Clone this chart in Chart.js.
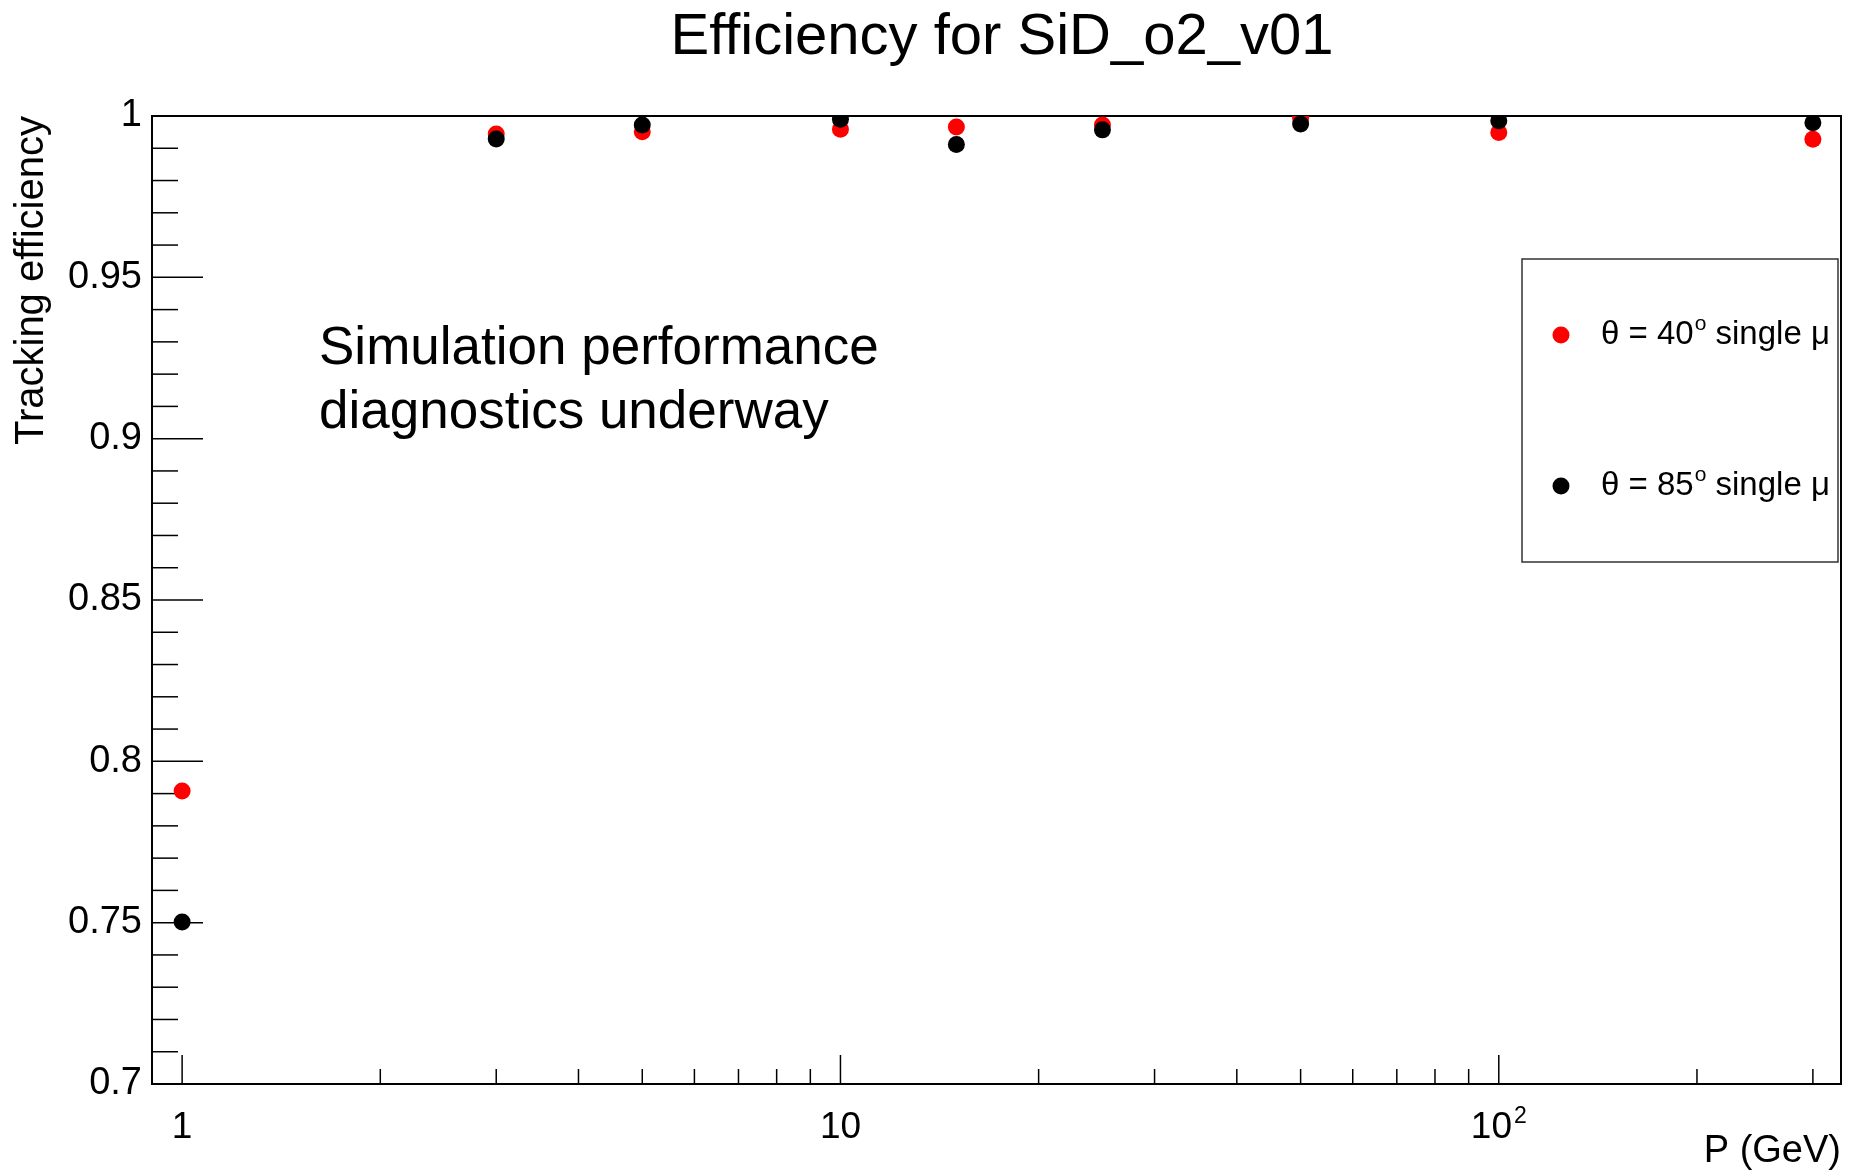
<!DOCTYPE html>
<html>
<head>
<meta charset="utf-8">
<title>Efficiency for SiD_o2_v01</title>
<script src="https://cdn.jsdelivr.net/npm/chart.js@4"></script>
<style>
    html, body { margin: 0; padding: 0; background: #ffffff; }
    canvas { display: block; }
</style>
</head>
<body>
<canvas id="effChart" width="1854" height="1172"></canvas>
<script>
const FONT = "'Liberation Sans', Arial, Helvetica, sans-serif";

// momentum points (GeV)
const momenta = [1, 3, 5, 10, 15, 25, 50, 100, 300];
// tracking efficiency, theta = 40 deg
const eff40 = [0.7908, 0.9944, 0.9951, 0.9959, 0.9966, 0.9972, 0.9993, 0.9949, 0.9928];
// tracking efficiency, theta = 85 deg
const eff85 = [0.7502, 0.9929, 0.9972, 0.9990, 0.9912, 0.9957, 0.9975, 0.9985, 0.9979];

const seriesNames = ['θ = 40', 'θ = 85'];
const seriesColors = ['#ff0000', '#000000'];

const xMajorTicks = [1, 10, 100];
const xMajorLabels = [['1', ''], ['10', ''], ['10', '2']];
const xMinorTicks = [2, 3, 4, 5, 6, 7, 8, 9, 20, 30, 40, 50, 60, 70, 80, 90, 200, 300];
const yMajorTicks = [0.7, 0.75, 0.8, 0.85, 0.9, 0.95, 1.0];
const yMinorTicks = [0.71, 0.72, 0.73, 0.74, 0.76, 0.77, 0.78, 0.79, 0.81, 0.82, 0.83, 0.84,
                     0.86, 0.87, 0.88, 0.89, 0.91, 0.92, 0.93, 0.94, 0.96, 0.97, 0.98, 0.99];

const titleText = 'Efficiency for SiD_o2_v01';
const noteLines = ['Simulation performance', 'diagnostics underway'];

const toPoints = ys => momenta.map((p, i) => ({ x: p, y: ys[i] }));

// frame, inward ticks, x labels, title, note and legend (ROOT look)
const rootStyle = {
    id: 'rootStyle',
    beforeDatasetsDraw(chart) {
        const { ctx, chartArea: a, scales: { x, y } } = chart;
        ctx.save();
        ctx.strokeStyle = '#000';
        ctx.lineWidth = 1.5;
        const seg = (x1, y1, x2, y2) => {
            ctx.beginPath(); ctx.moveTo(x1, y1); ctx.lineTo(x2, y2); ctx.stroke();
        };
        yMajorTicks.forEach(v => { const py = y.getPixelForValue(v); seg(a.left, py, a.left + 51, py); });
        yMinorTicks.forEach(v => { const py = y.getPixelForValue(v); seg(a.left, py, a.left + 26, py); });
        xMajorTicks.forEach(v => { const px = x.getPixelForValue(v); seg(px, a.bottom, px, a.bottom - 29); });
        xMinorTicks.forEach(v => { const px = x.getPixelForValue(v); seg(px, a.bottom, px, a.bottom - 15); });
        ctx.lineWidth = 2;
        ctx.strokeRect(a.left, a.top, a.right - a.left, a.bottom - a.top);
        ctx.restore();
    },
    afterDraw(chart) {
        const { ctx, scales: { x } } = chart;
        ctx.save();
        ctx.fillStyle = '#000';
        ctx.textBaseline = 'alphabetic';

        // x tick labels, with superscript exponent
        xMajorTicks.forEach((v, i) => {
            const [base, sup] = xMajorLabels[i];
            ctx.font = `37px ${FONT}`;
            const wb = ctx.measureText(base).width;
            ctx.font = `23px ${FONT}`;
            const ws = sup ? ctx.measureText(sup).width + 2 : 0;
            const left = x.getPixelForValue(v) - (wb + ws) / 2;
            ctx.textAlign = 'left';
            ctx.font = `37px ${FONT}`;
            ctx.fillText(base, left, 1138);
            if (sup) {
                ctx.font = `23px ${FONT}`;
                ctx.fillText(sup, left + wb + 2, 1123);
            }
        });

        // title
        ctx.textAlign = 'center';
        ctx.font = `58px ${FONT}`;
        ctx.fillText(titleText, 1002, 54);

        // note
        ctx.textAlign = 'left';
        ctx.font = `53px ${FONT}`;
        noteLines.forEach((t, i) => ctx.fillText(t, 319, 364 + i * 64));

        // legend box
        const lx = 1522, ly = 259, lw = 316, lh = 303;
        ctx.fillStyle = '#fff';
        ctx.fillRect(lx, ly, lw, lh);
        ctx.strokeStyle = '#333';
        ctx.lineWidth = 1.5;
        ctx.strokeRect(lx, ly, lw, lh);
        const rowY = [344, 495];
        seriesNames.forEach((name, i) => {
            ctx.fillStyle = seriesColors[i];
            ctx.beginPath();
            ctx.arc(1561, rowY[i] - 9, 8.5, 0, Math.PI * 2);
            ctx.fill();
            ctx.fillStyle = '#000';
            ctx.font = `33px ${FONT}`;
            ctx.fillText(name, 1601, rowY[i]);
            let cx = 1601 + ctx.measureText(name).width + 1;
            ctx.font = `21px ${FONT}`;
            ctx.fillText('o', cx, rowY[i] - 14);
            cx += ctx.measureText('o').width;
            ctx.font = `33px ${FONT}`;
            ctx.fillText(' single μ', cx, rowY[i]);
        });
        ctx.restore();
    }
};

new Chart(document.getElementById('effChart'), {
    type: 'scatter',
    data: {
        datasets: [
            {
                label: 'θ = 40° single μ',
                data: toPoints(eff40),
                backgroundColor: seriesColors[0],
                borderColor: seriesColors[0],
                borderWidth: 0,
                pointRadius: 8.5,
                order: 1
            },
            {
                label: 'θ = 85° single μ',
                data: toPoints(eff85),
                backgroundColor: seriesColors[1],
                borderColor: seriesColors[1],
                borderWidth: 0,
                pointRadius: 8.5,
                order: 0
            }
        ]
    },
    options: {
        responsive: false,
        animation: false,
        devicePixelRatio: 1,
        layout: { padding: { top: 116, right: 13, left: 0, bottom: 0 } },
        plugins: {
            legend: { display: false },
            tooltip: { enabled: false }
        },
        scales: {
            x: {
                type: 'logarithmic',
                min: 0.9,
                max: 331,
                grid: { display: false, drawTicks: false },
                border: { display: false },
                ticks: { display: false },
                title: {
                    display: true,
                    text: 'P (GeV)',
                    align: 'end',
                    color: '#000',
                    font: { family: FONT, size: 38, lineHeight: 1 },
                    padding: { top: 0, bottom: 1 }
                },
                afterFit: s => { s.height = 88; }
            },
            y: {
                min: 0.7,
                max: 1.0,
                grid: { display: false, drawTicks: false },
                border: { display: false },
                ticks: {
                    stepSize: 0.05,
                    padding: 10,
                    color: '#000',
                    font: { family: FONT, size: 38 },
                    callback: v => String(parseFloat(v.toFixed(2)))
                },
                title: {
                    display: true,
                    text: 'Tracking efficiency',
                    align: 'end',
                    color: '#000',
                    font: { family: FONT, size: 40 },
                    padding: { top: 8, bottom: 0 }
                },
                afterFit: s => { s.width = 152; }
            }
        }
    },
    plugins: [rootStyle]
});
</script>
</body>
</html>
